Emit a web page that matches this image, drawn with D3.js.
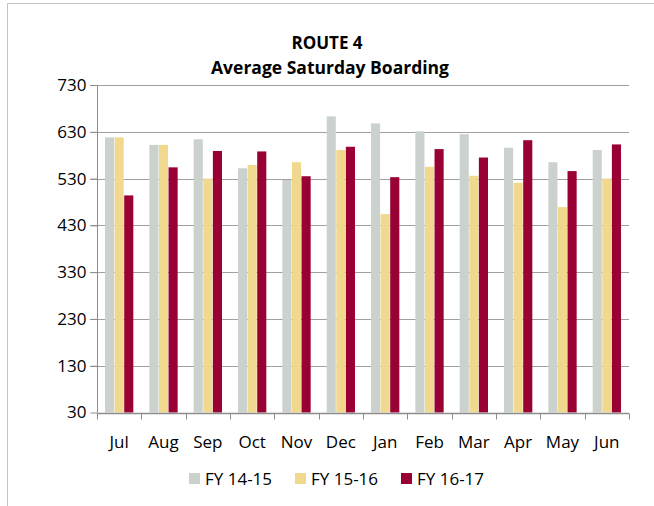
<!DOCTYPE html>
<html>
<head>
<meta charset="utf-8">
<script src="https://cdn.jsdelivr.net/npm/d3@7"></script>
<style>
  body { margin: 0; background: #fff; }
  svg { display: block; font-family: "Open Sans", sans-serif; }
</style>
</head>
<body>
<div id="chart"></div>
<script>
(function() {
  var months = ['Jul', 'Aug', 'Sep', 'Oct', 'Nov', 'Dec', 'Jan', 'Feb', 'Mar', 'Apr', 'May', 'Jun'];
  var seriesNames = ['FY 14-15', 'FY 15-16', 'FY 16-17'];
  var fy1415 = [618, 602, 614, 552, 527, 663, 648, 631, 625, 596, 565, 591];
  var fy1516 = [618, 602, 530, 559, 565, 591, 454, 555, 536, 521, 469, 530];
  var fy1617 = [494, 554, 589, 588, 535, 598, 533, 593, 575, 612, 546, 603];
  var yTicks = [30, 130, 230, 330, 430, 530, 630, 730];
  var colors = ['#cbd2ce', '#f0d98f', '#990033'];

  var width = 654;
  var height = 506;
  var margin = { top: 85, right: 25, bottom: 94, left: 97 };
  var labelSize = 17;

  var svg = d3.select('#chart').append('svg')
    .attr('width', width)
    .attr('height', height);

  // outer frame (only top and left visible in reference)
  svg.append('path')
    .attr('d', 'M7.5,' + height + 'V3.5H' + width)
    .attr('fill', 'none')
    .attr('stroke', '#c4c4c4')
    .attr('stroke-width', 1);

  var y = d3.scaleLinear()
    .domain([30, 730])
    .range([height - margin.bottom + 0.5, margin.top]);

  var x0 = d3.scaleBand()
    .domain(months)
    .range([margin.left, width - margin.right])
    .paddingInner(0.34)
    .paddingOuter(0.17);

  var x1 = d3.scaleBand()
    .domain(seriesNames)
    .range([0, x0.bandwidth()])
    .padding(0.05);

  var rows = months.map(function(m, i) {
    return { month: m, values: [fy1415[i], fy1516[i], fy1617[i]] };
  });

  // gridlines
  svg.append('g')
    .selectAll('line')
    .data(yTicks.slice(1))
    .enter()
    .append('line')
    .attr('x1', margin.left - 7)
    .attr('x2', width - margin.right)
    .attr('y1', function(d) { return Math.round(y(d)) + 0.5; })
    .attr('y2', function(d) { return Math.round(y(d)) + 0.5; })
    .attr('stroke', '#a0a0a0')
    .attr('stroke-width', 1);

  // bars
  var groups = svg.append('g')
    .selectAll('g')
    .data(rows)
    .enter()
    .append('g')
    .attr('transform', function(d) { return 'translate(' + x0(d.month) + ',0)'; });

  groups.selectAll('rect')
    .data(function(d) {
      return d.values.map(function(v, i) { return { name: seriesNames[i], value: v, i: i }; });
    })
    .enter()
    .append('rect')
    .attr('x', function(d) { return x1(d.name); })
    .attr('width', x1.bandwidth())
    .attr('y', function(d) { return y(d.value); })
    .attr('height', function(d) { return y(30) - y(d.value); })
    .attr('fill', function(d) { return colors[d.i]; });

  // y axis
  var yAxis = svg.append('g')
    .attr('transform', 'translate(' + (margin.left + 0.5) + ',0)')
    .call(d3.axisLeft(y).tickValues(yTicks).tickSize(7).tickPadding(4));
  yAxis.select('.domain').attr('stroke', '#8c8c8c').attr('d', 'M0,' + y(30) + 'V' + y(730));
  yAxis.selectAll('.tick line').attr('stroke', '#8c8c8c');
  yAxis.selectAll('.tick text').attr('font-size', labelSize).attr('fill', '#000').attr('font-family', '"Open Sans", sans-serif');

  // x axis with ticks at band boundaries
  var xAxisG = svg.append('g')
    .attr('transform', 'translate(0,' + (Math.round(y(30)) + 0.5) + ')');
  xAxisG.append('line')
    .attr('x1', margin.left)
    .attr('x2', width - margin.right)
    .attr('stroke', '#8c8c8c')
    .attr('stroke-width', 1.5);
  var bounds = d3.range(months.length + 1).map(function(i) {
    return margin.left + i * (width - margin.right - margin.left) / months.length;
  });
  xAxisG.selectAll('.xt')
    .data(bounds)
    .enter()
    .append('line')
    .attr('class', 'xt')
    .attr('x1', function(d) { return Math.round(d) + 0.5; })
    .attr('x2', function(d) { return Math.round(d) + 0.5; })
    .attr('y1', 0)
    .attr('y2', 6)
    .attr('stroke', '#8c8c8c');
  xAxisG.selectAll('.xl')
    .data(months)
    .enter()
    .append('text')
    .attr('class', 'xl')
    .attr('x', function(d) { return x0(d) + x0.bandwidth() / 2; })
    .attr('y', 34)
    .attr('text-anchor', 'middle')
    .attr('font-size', labelSize)
    .text(function(d) { return d; });

  // title
  svg.append('text')
    .attr('x', 327)
    .attr('y', 49)
    .attr('text-anchor', 'middle')
    .attr('font-size', 17)
    .attr('font-weight', 'bold')
    .text('ROUTE 4');
  svg.append('text')
    .attr('x', 330)
    .attr('y', 74)
    .attr('text-anchor', 'middle')
    .attr('font-size', 17.5)
    .attr('font-weight', 'bold')
    .text('Average Saturday Boarding');

  // legend
  var legendX = [189, 295, 401];
  var legend = svg.append('g')
    .selectAll('g')
    .data(seriesNames)
    .enter()
    .append('g')
    .attr('transform', function(d, i) { return 'translate(' + legendX[i] + ',473)'; });
  legend.append('rect')
    .attr('width', 11)
    .attr('height', 11)
    .attr('fill', function(d, i) { return colors[i]; });
  legend.append('text')
    .attr('x', 16)
    .attr('y', 11.5)
    .attr('font-size', labelSize)
    .text(function(d) { return d; });
})();
</script>
</body>
</html>
